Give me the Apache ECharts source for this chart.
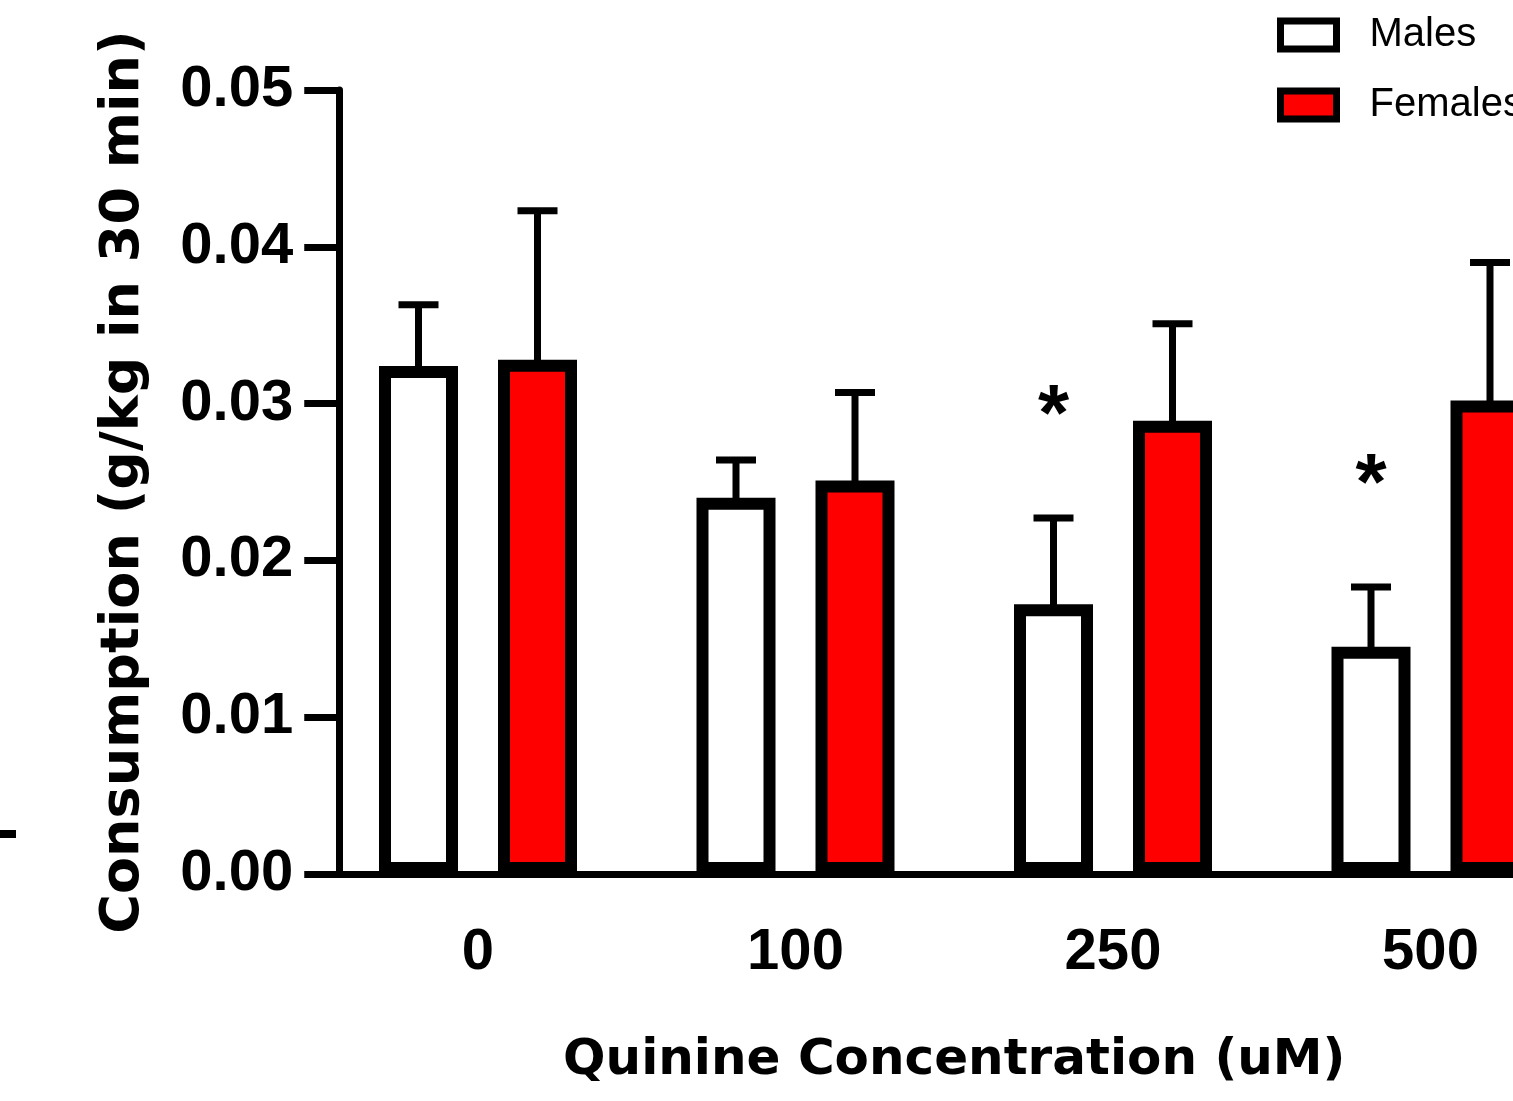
<!DOCTYPE html>
<html>
<head>
<meta charset="utf-8">
<title>Quinine consumption</title>
<script src="https://cdn.jsdelivr.net/npm/echarts@6/dist/echarts.min.js"></script>
<style>
  html, body { margin: 0; padding: 0; background: #fff; overflow: hidden; width: 1513px; height: 1101px; }
  /* the figure is cropped on the right, so the canvas runs past the window */
  #main { width: 1600px; height: 1101px; }
</style>
</head>
<body>
<div id="main"></div>
<script>
// quinine concentrations (uM)
var categories = ['0', '100', '250', '500'];
// means and SEM, g/kg in 30 min
var males = [0.0324, 0.0240, 0.0172, 0.0145];
var malesSem = [0.0039, 0.0024, 0.0055, 0.0038];
var females = [0.0328, 0.0251, 0.0289, 0.0302];
var femalesSem = [0.0095, 0.0056, 0.0062, 0.0088];
// significance marks over the male bars
var maleSig = ['', '', '*', '*'];
var sigLevel = [null, null, 0.0300, 0.0256];

var BAR_W = 79, BAR_GAP = 40;
var shift = (BAR_W + BAR_GAP) / 2;

var myChart = echarts.init(document.getElementById('main'));

function errorBars(offset, withSig) {
    return function (params, api) {
        var i = api.value(0);
        var base = api.coord([i, api.value(1)]);
        var top = api.coord([i, api.value(1) + api.value(2)]);
        var x = base[0] + offset;
        var kids = [
            { type: 'line', shape: { x1: x, y1: base[1] + 4, x2: x, y2: top[1] },
              style: { stroke: '#000', lineWidth: 7 } },
            { type: 'line', shape: { x1: x - 20, y1: top[1], x2: x + 20, y2: top[1] },
              style: { stroke: '#000', lineWidth: 7 } }
        ];
        if (withSig && maleSig[i]) {
            var s = api.coord([i, sigLevel[i]]);
            kids.push({ type: 'text', style: {
                text: maleSig[i], x: x, y: s[1] + 14, align: 'center', verticalAlign: 'middle',
                font: 'bold 80px "Liberation Sans"', fill: '#000' } });
        }
        return { type: 'group', children: kids };
    };
}

var option = {
    animation: false,
    backgroundColor: '#fff',
    grid: { left: 319.25, right: 10.75, top: 90, bottom: 227 },
    legend: {
        data: ['Males', 'Females'],
        orient: 'vertical',
        left: 1272, top: 10,
        icon: 'rect',
        itemWidth: 56, itemHeight: 28, itemGap: 30,
        itemStyle: { borderWidth: 7, borderColor: '#000' },
        textStyle: { fontFamily: 'Liberation Sans', fontSize: 40, color: '#000', lineHeight: 40, padding: [0, 0, 0, 28] }
    },
    xAxis: {
        type: 'category',
        data: categories,
        name: 'Quinine Concentration (uM)',
        nameLocation: 'middle',
        nameGap: 162,
        nameTextStyle: { fontFamily: 'DejaVu Sans', fontWeight: 'bold', fontSize: 50, color: '#000' },
        axisLine: { lineStyle: { color: '#000', width: 7 } },
        axisTick: { alignWithLabel: true, length: 30, lineStyle: { color: '#000', width: 7 } },
        axisLabel: { margin: 50, fontFamily: 'Liberation Sans', fontWeight: 'bold', fontSize: 58, color: '#000' }
    },
    yAxis: {
        type: 'value',
        min: 0, max: 0.05, interval: 0.01,
        offset: -20,
        name: 'Consumption (g/kg in 30 min)',
        nameLocation: 'middle',
        nameGap: 188,
        nameTextStyle: { fontFamily: 'DejaVu Sans', fontWeight: 'bold', fontSize: 54, color: '#000' },
        axisLine: { show: true, lineStyle: { color: '#000', width: 7 } },
        axisTick: { show: true, length: 35, lineStyle: { color: '#000', width: 7 } },
        axisLabel: {
            margin: 46, fontFamily: 'Liberation Sans', fontWeight: 'bold', fontSize: 58, color: '#000',
            formatter: function (v) { return v.toFixed(2); }
        },
        splitLine: { show: false }
    },
    graphic: [
        { type: 'rect', left: 0, top: 830, shape: { width: 16, height: 8 }, style: { fill: '#000' } }
    ],
    series: [
        {
            name: 'Males', type: 'bar', data: males,
            barWidth: BAR_W, barGap: (BAR_GAP / BAR_W * 100) + '%',
            itemStyle: { color: '#fff', borderColor: '#000', borderWidth: 12 }
        },
        {
            name: 'Females', type: 'bar', data: females,
            barWidth: BAR_W,
            itemStyle: { color: '#ff0000', borderColor: '#000', borderWidth: 12 }
        },
        {
            name: 'Males SEM', type: 'custom', z: 1,
            data: categories.map(function (c, i) { return [i, males[i], malesSem[i]]; }),
            renderItem: errorBars(-shift, true)
        },
        {
            name: 'Females SEM', type: 'custom', z: 1,
            data: categories.map(function (c, i) { return [i, females[i], femalesSem[i]]; }),
            renderItem: errorBars(shift, false)
        }
    ]
};
myChart.setOption(option);
</script>
</body>
</html>
